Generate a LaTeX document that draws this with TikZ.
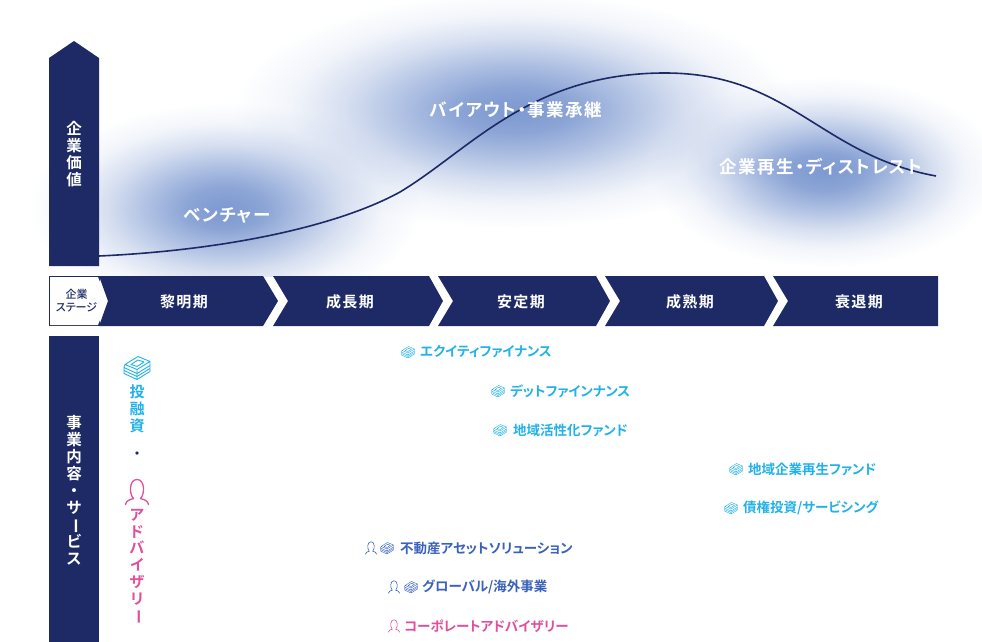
\documentclass[tikz,border=0pt]{standalone}
\usepackage{fontspec}
\usetikzlibrary{fadings}
\setmainfont{Noto Sans CJK JP}[BoldFont={Noto Sans CJK JP Medium},RawFeature=+palt]
\newfontfamily\hvy{Noto Sans CJK JP Bold}[RawFeature=+palt]
\definecolor{navy}{HTML}{1E2A66}
\definecolor{cyanc}{HTML}{22B1E8}
\definecolor{pinkc}{HTML}{DF4F9C}
\definecolor{bluec}{HTML}{3A62B8}
\definecolor{blobc}{HTML}{7E9AD1}
\pgfdeclareradialshading{blobsh}{\pgfpoint{0bp}{0bp}}{color(0bp)=(white); color(5bp)=(white!88!black); color(10bp)=(white!62!black); color(15bp)=(white!32!black); color(20bp)=(white!10!black); color(25bp)=(black); color(50bp)=(black)}
\pgfdeclarefading{blobfade}{\pgfuseshading{blobsh}}
\newcommand{\vbar}{\smash{\rotatebox[origin=c]{-90}{ー}}}
\tikzset{
  x=1pt,y=-1pt,
  blob/.style={fill=blobc,path fading=blobfade,draw=none},
  halo/.style={fill=blobc,path fading=blobfade,draw=none,fill opacity=.45},
  bar/.style={fill=navy,draw=none},
  stagelbl/.style={text=white,font=\fontsize{15}{16}\hvy\addfontfeature{LetterSpace=9}},
  biglbl/.style={text=white,font=\fontsize{17.5}{18}\hvy\addfontfeature{LetterSpace=8},inner sep=0pt},
  vlbl/.style={align=center,inner sep=0pt,font=\fontsize{15.5}{17}\hvy,text=white},
  svc/.style={anchor=west,inner sep=0pt,font=\fontsize{13.5}{15}\hvy},
  small/.style={scale=.5},
  money/.pic={
    \draw[line width=#1,pic actions,fill=none,line join=round]
      (-12,-3)--(1,-11)--(13,-6)--(0,2)--cycle
      (-6,-3)--(1,-7.5)--(7,-5.5)--(0,-1)--cycle
      (-12,-3)--(-13,-1)--(-13,6)--(0,12)--(13,4)--(13,-6)
      (-13,0)--(0,6)--(13,-2)
      (-13,3)--(0,9)--(13,1)
      (0,2)--(0,12);
  },
  person/.pic={
    \draw[line width=#1,pic actions,fill=none,line cap=round,line join=round]
      (-11.5,12.5) .. controls (-11,8) and (-6,7.5) .. (-3.5,6.5)
      .. controls (-8,2) and (-8,-12.5) .. (0,-12.5)
      .. controls (8,-12.5) and (8,2) .. (3.5,6.5)
      .. controls (6,7.5) and (11,8) .. (11.5,12.5);
  },
}
\begin{document}
\begin{tikzpicture}
\useasboundingbox (0,0) rectangle (982,642);
% background glows
\begin{scope}
\clip (0,0) rectangle (982,276);
\fill[blob] (225,208) ellipse [x radius=195,y radius=105];
\fill[blob] (515,110) ellipse [x radius=280,y radius=118];
\fill[blob] (825,172) ellipse [x radius=175,y radius=95];
\fill[halo] (227,215) ellipse [x radius=62,y radius=25];
\fill[halo] (516,110) ellipse [x radius=110,y radius=25];
\fill[halo] (821,167) ellipse [x radius=125,y radius=26];
\end{scope}
% curve
\coordinate (c0) at (99,256);
\coordinate (c1) at (400,192);
\coordinate (c2) at (665,73);
\coordinate (c3) at (936,176);
\draw[navy,line width=1.6pt] (c0) .. controls (230,250) and (340,225) .. (c1)
  .. controls (470,150) and (530,73) .. (c2)
  .. controls (790,73) and (820,155) .. (c3);
% value axis
\fill[bar] (49,266)--(49,58)--(74,41)--(99,58)--(99,266)--cycle;
\node[vlbl] (valuelbl) at (74,154) {企\\業\\価\\値};
% stage ribbon
\fill[navy] (49,276) rectangle (100,326);
\fill[white] (50,277)--(98,277)--(107.5,301)--(98,325)--(50,325)--cycle;
\fill[navy] (99,276)--(263,276)--(278,301)--(263,326)--(99,326)--(108,301)--cycle;
\fill[navy] (273,276)--(429,276)--(443,301)--(429,326)--(273,326)--(288,301)--cycle;
\fill[navy] (438,276)--(596,276)--(610,301)--(596,326)--(438,326)--(453,301)--cycle;
\fill[navy] (605,276)--(764,276)--(778,301)--(764,326)--(605,326)--(620,301)--cycle;
\fill[navy] (773,276)--(938,276)--(938,326)--(773,326)--(788,301)--cycle;
\node[align=center,inner sep=0pt,text=navy,font=\fontsize{11}{13}\bfseries] (stagehead) at (76.5,301) {企業\\ステージ};
\node[stagelbl] (s1) at (184,301.5) {黎明期};
\node[stagelbl] (s2) at (350,301.5) {成長期};
\node[stagelbl] (s3) at (521,301.5) {安定期};
\node[stagelbl] (s4) at (690,301.5) {成熟期};
\node[stagelbl] (s5) at (859,301.5) {衰退期};
% service bar
\fill[bar] (49,336) rectangle (99,642);
\node[vlbl] (svclbl) at (74,490) {事\\業\\内\\容\\・\\サ\\\vbar\\ビ\\ス};
% legend column
\pic[cyanc] at (137,367.5) {money=.9pt};
\node[align=center,inner sep=0pt,text=cyanc,font=\fontsize{15}{16.7}\hvy] (inv) at (137,409) {投\\融\\資};
\node[inner sep=0pt,text=navy,font=\fontsize{13}{15}\hvy] (dot) at (137,455) {・};
\pic[pinkc] at (137,492) {person=1.3pt};
\node[align=center,inner sep=0pt,text=pinkc,font=\fontsize{15}{16.7}\hvy] (adv) at (137,565) {ア\\ド\\バ\\イ\\ザ\\リ\\\vbar};
% big labels
\node[biglbl] (l1) at (227,215) {ベンチャー};
\node[biglbl] (l2) at (516,110) {バイアウト・事業承継};
\node[biglbl] (l3) at (821,167) {企業再生・ディストレスト};
% services
\pic[cyanc,small] at (408,352) {money=.4pt};
\node[svc,text=cyanc] (a1) at (420,352) {エクイティファイナンス};
\pic[cyanc,small] at (498,391) {money=.4pt};
\node[svc,text=cyanc] (a2) at (510,391) {デットファインナンス};
\pic[cyanc,small] at (500,430) {money=.4pt};
\node[svc,text=cyanc] (a3) at (513,430) {地域活性化ファンド};
\pic[cyanc,small] at (736,469) {money=.4pt};
\node[svc,text=cyanc] (a4) at (748,469) {地域企業再生ファンド};
\pic[cyanc,small] at (731,508) {money=.4pt};
\node[svc,text=cyanc] (a5) at (743,508) {債権投資/サービシング};
\pic[bluec,small] at (371,548) {person=.6pt};
\pic[bluec,small] at (387,548) {money=.4pt};
\node[svc,text=bluec] (a6) at (400,548) {不動産アセットソリューション};
\pic[bluec,small] at (394,587) {person=.6pt};
\pic[bluec,small] at (411,587) {money=.4pt};
\node[svc,text=bluec] (a7) at (422,587) {グローバル/海外事業};
\pic[pinkc,small] at (394,626) {person=.6pt};
\node[svc,text=pinkc] (a8) at (404,626) {コーポレートアドバイザリー};
\end{tikzpicture}
\end{document}
